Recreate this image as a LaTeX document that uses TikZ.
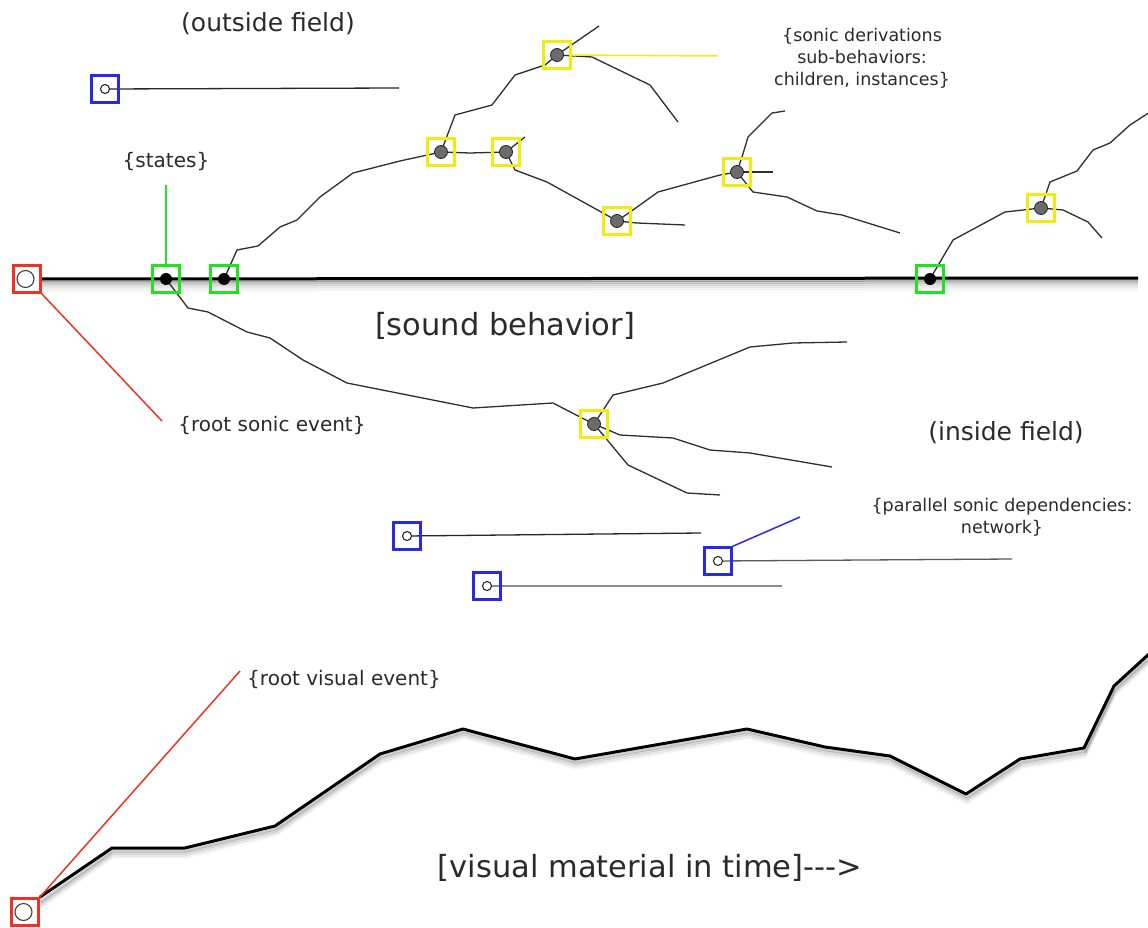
\documentclass[tikz,border=0pt]{standalone}
\usepackage{fontspec}
\setmainfont{DejaVu Sans}
\usetikzlibrary{backgrounds}
\definecolor{cred}{HTML}{EE3322}
\definecolor{cgreen}{HTML}{22E022}
\definecolor{cblue}{HTML}{2A2AE6}
\definecolor{cyellow}{HTML}{F0EC10}
\definecolor{ctxt}{HTML}{2A2A2A}
\begin{document}
\begin{tikzpicture}[x=1pt,y=-1pt,
  box/.style={draw, line width=2.9pt, minimum size=26.5pt, inner sep=0pt},
  rbox/.style={box, draw=cred, path picture={\filldraw[fill=white, draw=black!75, line width=1.1pt] ([xshift=-1.5pt]path picture bounding box.center) circle (8.5pt);}},
  gbox/.style={box, draw=cgreen, path picture={\fill[black] (path picture bounding box.center) circle (6pt);}},
  ybox/.style={box, draw=cyellow, path picture={\filldraw[fill=black!58, draw=black!85, line width=0.8pt] (path picture bounding box.center) circle (6.5pt);}},
  bbox/.style={box, draw=cblue, path picture={\filldraw[fill=white, draw=black!90, line width=1pt] (path picture bounding box.center) circle (4.5pt);}},
  branch/.style={draw=black!82, line width=1.3pt, line join=round},
  lead/.style={line width=1.5pt},
  lbl/.style={text=ctxt, inner sep=0pt, align=center},
  small/.style={lbl, font=\fontsize{20}{23}\selectfont},
  tiny/.style={lbl, font=\fontsize{17.5}{22}\selectfont},
  mid/.style={lbl, font=\fontsize{25}{30}\selectfont},
  big/.style={lbl, font=\fontsize{30.5}{36}\selectfont}
]
\useasboundingbox (0,0) rectangle (1148,928);

% ---------- nodes ----------
\node[rbox] (root) at (27,279) {};
\node[gbox] (g1) at (166,279) {};
\node[gbox] (g2) at (224,279) {};
\node[gbox] (g3) at (930,279) {};
\node[ybox] (y0) at (557,55) {};
\node[ybox] (y1) at (441,152) {};
\node[ybox] (y2) at (506,152) {};
\node[ybox] (y3) at (617,221) {};
\node[ybox] (y4) at (737,172) {};
\node[ybox] (y5) at (1041,208) {};
\node[ybox] (y6) at (594,424) {};
\node[bbox] (bO) at (105,89) {};
\node[bbox] (bA) at (407,536) {};
\node[bbox] (bB) at (718,561) {};
\node[bbox] (bC) at (487,586) {};
\node[rbox] (vroot) at (25,912) {};

\coordinate (mainend) at (1138,278);
\coordinate (statesend) at (166,185);
\coordinate (rootend) at (162,421);
\coordinate (derivend) at (718,56);
\coordinate (parend) at (800,517);
\coordinate (vrootend) at (240,671);

% ---------- texts ----------
\node[mid] (tout) at (268,24) {(outside field)};
\node[small] (tstates) at (166,162) {\{states\}};
\node[tiny] (tderiv) at (862,58) {\{sonic derivations\\sub-behaviors:\\children, instances\}};
\node[big] (tsound) at (505,326) {[sound behavior]};
\node[small] (troot) at (272,426) {\{root sonic event\}};
\node[mid] (tin) at (1006,433) {(inside field)};
\node[tiny] (tpar) at (1002,517) {\{parallel sonic dependencies:\\network\}};
\node[small] (tvroot) at (344,680) {\{root visual event\}};
\node[big] (tvis) at (650,868) {[visual material in time]-\kern0pt-\kern0pt->};

\begin{scope}[on background layer]
% shadow of main line
\foreach \s/\o in {2/0.26,4/0.17,6/0.11,8/0.07,10/0.04,12/0.02} {
  \draw[line width=3pt, opacity=\o] ([yshift=-\s pt]root.east) -- ([yshift=-\s pt]mainend);
}
% shadow of visual line
\foreach \s/\o in {3/0.18,5/0.12,7/0.07,9/0.04} {
  \begin{scope}[shift={(1,\s)}]
  \draw[line width=3pt, opacity=\o, line join=round] (39,899) -- (112,848) -- (185,848) -- (275,826) -- (380,754) -- (463,729) -- (575,759) -- (747,729) -- (825,747) -- (890,756) -- (966,794) -- (1020,759) -- (1084,748) -- (1114,686) -- (1150,653);
  \end{scope}
}
% main line
\draw[line width=3pt] (root.east) -- (mainend);
% visual line
\draw[line width=3pt, line join=round] (vroot.north east) -- (112,848) -- (185,848) -- (275,826) -- (380,754) -- (463,729) -- (575,759) -- (747,729) -- (825,747) -- (890,756) -- (966,794) -- (1020,759) -- (1084,748) -- (1114,686) -- (1150,653);

% branches
\draw[branch] (g2.center) -- (237,250) -- (258,246) -- (280,227) -- (297,220) -- (320,197) -- (353,173) -- (400,161) -- (y1.center);
\draw[branch] (y1.center) -- (455,115) -- (492,105) -- (515,75) -- (545,65) -- (y0.center);
\draw[branch] (y0.center) -- (599,26);
\draw[branch] (y0.center) -- (592,57) -- (650,85) -- (678,122);
\draw[branch] (y1.center) -- (470,153) -- (y2.center);
\draw[branch] (y2.center) -- (525,137);
\draw[branch] (y2.center) -- (515,170) -- (547,182) -- (603,213) -- (y3.center);
\draw[branch] (y3.center) -- (637,223) -- (685,225);
\draw[branch] (y3.center) -- (633,210) -- (658,192) -- (720,175) -- (y4.center);
\draw[branch] (y4.center) -- (742,157) -- (748,137) -- (772,113) -- (785,111);
\draw[branch] (y4.center) -- (773,172);
\draw[branch] (y4.center) -- (753,192) -- (787,197) -- (817,211) -- (842,215) -- (900,233);
\draw[branch] (g3.center) -- (953,240) -- (1005,212) -- (y5.center);
\draw[branch] (y5.center) -- (1050,182) -- (1077,171) -- (1093,150) -- (1110,143) -- (1130,125) -- (1150,112);
\draw[branch] (y5.center) -- (1063,210) -- (1088,222) -- (1102,238);
\draw[branch] (g1.center) -- (188,308) -- (208,312) -- (247,332) -- (270,338) -- (303,360) -- (347,383) -- (473,408) -- (553,403) -- (580,417) -- (y6.center);
\draw[branch] (y6.center) -- (613,395) -- (663,383) -- (750,347) -- (793,343) -- (847,342);
\draw[branch] (y6.center) -- (620,435) -- (673,438) -- (710,450) -- (750,453) -- (832,467);
\draw[branch] (y6.center) -- (628,465) -- (687,493) -- (720,495);

% parallel lines
\draw[line width=1.3pt, black!85] (bO.center) -- (399,88);
\draw[line width=1.3pt, black!85] (bA.center) -- (701,533);
\draw[line width=1.3pt, black!65] (bB.center) -- (1012,559);
\draw[line width=1.8pt, black!45] (bC.center) -- (782,586);

% leaders
\draw[lead, cgreen] (g1.north) -- (statesend);
\draw[lead, cred] (root.south east) -- (rootend);
\draw[lead, cyellow] (y0.east) -- (derivend);
\draw[lead, cblue] (bB.north east) -- (parend);
\draw[lead, cred] (vroot.north east) -- (vrootend);
\end{scope}
\end{tikzpicture}
\end{document}
